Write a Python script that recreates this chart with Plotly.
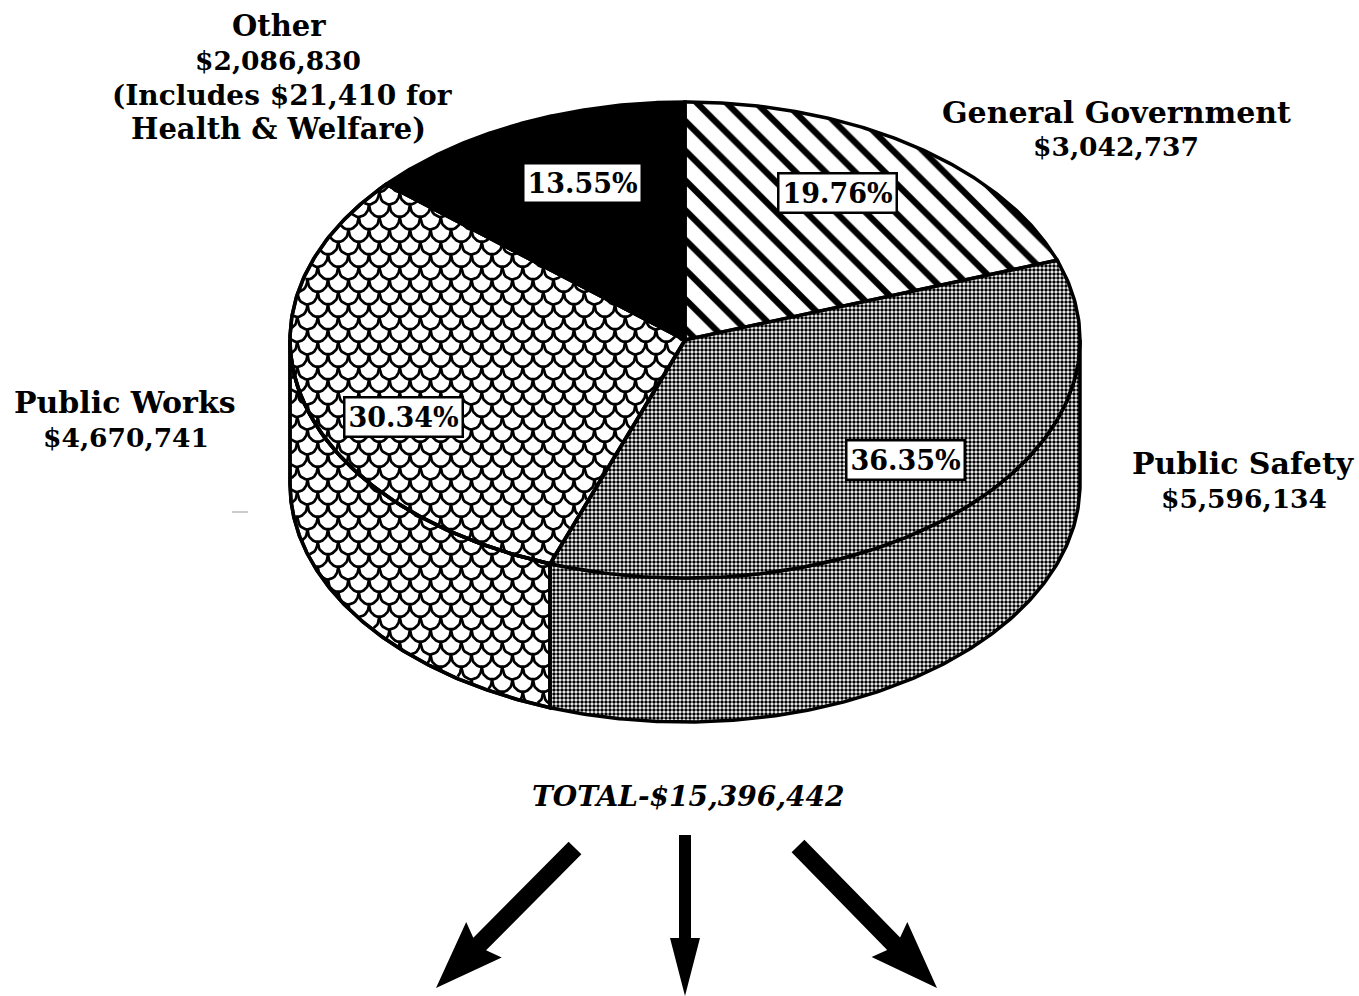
import numpy as np
import plotly.graph_objects as go

# ---- data ----
categories = ["General Government", "Public Safety", "Public Works", "Other"]
amounts = [3042737, 5596134, 4670741, 2086830]
shares = [19.76, 36.35, 30.34, 13.55]
total_label = "TOTAL-$15,396,442"

# ---- geometry / style ----
W, H = 1359, 996
CX, CY, RX, RY, DEPTH = 685, 340, 395, 238, 144
SERIF = "DejaVu Serif"
BLACK = "#000000"


def ell(theta_deg, dy=0.0):
    t = np.radians(theta_deg)
    return CX + RX * np.sin(t), CY + dy - RY * np.cos(t)


edges = np.concatenate([[0], np.cumsum(shares)]) / sum(shares) * 360.0
# the drawn original is slightly out of true: small angular correction
edges = edges - 2.1 * np.sin(np.radians(edges / 2)) ** 2


def wedge(a0, a1):
    th = np.linspace(a0, a1, 160)
    x, y = ell(th)
    return np.r_[CX, x, CX], np.r_[CY, y, CY]


def side(a0, a1):
    th = np.linspace(a0, a1, 160)
    x, y = ell(th)
    xb, yb = ell(th[::-1], DEPTH)
    return np.r_[x, xb, x[0]], np.r_[y, yb, y[0]]


def inside(px, py, polyx, polyy):
    res = np.zeros(px.shape, bool)
    j = len(polyx) - 1
    for i in range(len(polyx)):
        xi, yi, xj, yj = polyx[i], polyy[i], polyx[j], polyy[j]
        cond = (yi > py) != (yj > py)
        xint = (xj - xi) * (py - yi) / (yj - yi + 1e-12) + xi
        res ^= cond & (px < xint)
        j = i
    return res


def scale_texture(polys, period=20.5, row=12.5, depth=12.5, y0=17.0):
    """Fish-scale fill texture, clipped to the given polygons."""
    xs, ys = [], []
    t = np.r_[-1, -0.97, -0.93, -0.88, -0.8, -0.65, -0.45, -0.2, 0,
              0.2, 0.45, 0.65, 0.8, 0.88, 0.93, 0.97, 1]
    bump = 0.55 * (1 - t ** 2) + 0.45 * (1 - np.abs(t) ** 12)
    for r in range(-2, int(H / row) + 2):
        off = period / 2 if r % 2 else 0.0
        for c in range(-1, int(W / period) + 2):
            px = c * period + off + t * period / 2
            py = r * row + y0 + depth * bump
            mask = np.zeros(px.shape, bool)
            for poly in polys:
                mask |= inside(px, py, *poly)
            if not mask.any():
                continue
            for x, y, m in zip(px, py, mask):
                xs.append(round(float(x), 1) if m else None)
                ys.append(round(float(y), 1) if m else None)
            xs.append(None)
            ys.append(None)
    return xs, ys


fig = go.Figure()


def add_poly(x, y, name, lw=3.5, **kw):
    fig.add_trace(go.Scatter(x=x, y=y, mode="lines", fill="toself", name=name,
                             line=dict(color=BLACK, width=lw), hoverinfo="skip",
                             showlegend=False, **kw))


hatch = dict(shape="\\", size=21, solidity=0.3, fgcolor=BLACK, bgcolor="white",
             fgopacity=1, fillmode="replace")
dots = dict(shape=".", size=4, solidity=0.6, fgcolor=BLACK, bgcolor="white",
            fgopacity=1, fillmode="replace")

# side walls (only the part facing the viewer)
sx_pw, sy_pw = side(edges[2], 270)
sx_ps, sy_ps = side(90, edges[2])
add_poly(sx_pw, sy_pw, "Public Works side", fillcolor="white")
add_poly(sx_ps, sy_ps, "Public Safety side", fillpattern=dots, fillcolor="white")

# top faces
wx0, wy0 = wedge(edges[0], edges[1])
wx1, wy1 = wedge(edges[1], edges[2])
wx2, wy2 = wedge(edges[2], edges[3])
wx3, wy3 = wedge(edges[3], edges[4])
add_poly(wx0, wy0, categories[0], fillpattern=hatch, fillcolor="white")
add_poly(wx1, wy1, categories[1], fillpattern=dots, fillcolor="white")
add_poly(wx2, wy2, categories[2], fillcolor="white")
add_poly(wx3, wy3, categories[3], fillcolor=BLACK)

# fish-scale texture for Public Works
tx, ty = scale_texture([(wx2, wy2), (sx_pw, sy_pw)])
fig.add_trace(go.Scatter(x=tx, y=ty, mode="lines", line=dict(color=BLACK, width=2.7),
                         hoverinfo="skip", showlegend=False, connectgaps=False))

# redraw outlines over the texture
fig.add_trace(go.Scatter(x=sx_pw, y=sy_pw, mode="lines", line=dict(color=BLACK, width=3.5),
                         hoverinfo="skip", showlegend=False))
fig.add_trace(go.Scatter(x=wx2, y=wy2, mode="lines", line=dict(color=BLACK, width=3.5),
                         hoverinfo="skip", showlegend=False))


def label(x, y, text, size=30, **kw):
    fig.add_annotation(x=x, y=y, text=text, showarrow=False, xanchor="center", yanchor="middle",
                       font=dict(family=SERIF, size=size, color=BLACK), **kw)


def money(v):
    return f"${v:,}"


# category labels
label(279, 26, f"<b>{categories[3]}</b>", size=29)
label(278, 60, f"<b>{money(amounts[3])}</b>", size=26.5)
label(282, 95, "<b>(Includes $21,410 for</b>", size=28)
label(278, 129, "<b>Health &amp; Welfare)</b>", size=29)
label(1116, 112, f"<b>{categories[0]}</b>")
label(1116, 146, f"<b>{money(amounts[0])}</b>", size=26.5)
label(1243, 463, f"<b>{categories[1]}</b>")
label(1244, 498, f"<b>{money(amounts[1])}</b>", size=26.5)
label(125, 402, f"<b>{categories[2]}</b>")
label(126, 437, f"<b>{money(amounts[2])}</b>", size=26.5)
label(688, 796, f"<b><i>{total_label}</i></b>", size=28)

# percentage boxes
for (x, y), s in zip([(837, 193), (905, 460), (403, 417), (582, 183)], shares):
    label(x, y, f"<b>{s:.2f}%</b>", size=27, bgcolor="white", bordercolor=BLACK,
          borderwidth=2.5, borderpad=3)


# arrows
def arrow(x0, y0, x1, y1, shaft, head_w, head_l, barb=6):
    d = np.array([x1 - x0, y1 - y0], float)
    L = np.hypot(*d)
    u = d / L
    n = np.array([-u[1], u[0]])
    p0 = np.array([x0, y0], float)
    p1 = np.array([x1, y1], float)
    neck = p1 - u * head_l
    back = neck - u * barb
    pts = [p0 + n * shaft / 2, neck + n * shaft / 2, back + n * head_w / 2, p1,
           back - n * head_w / 2, neck - n * shaft / 2, p0 - n * shaft / 2]
    path = "M " + " L ".join(f"{a:.1f} {b:.1f}" for a, b in pts) + " Z"
    fig.add_shape(type="path", path=path, fillcolor=BLACK, line=dict(width=0), layer="above")


arrow(575, 848, 436, 988, 18, 50, 62)
arrow(685, 835, 685, 996, 12, 30, 58, barb=0)
arrow(798, 846, 937, 988, 18, 50, 62)

# small scanner speck
fig.add_shape(type="line", x0=232, x1=248, y0=512, y1=512, line=dict(color="#999999", width=1))

fig.update_layout(
    width=W, height=H, margin=dict(l=0, r=0, t=0, b=0),
    paper_bgcolor="white", plot_bgcolor="white", showlegend=False,
    xaxis=dict(range=[0, W], visible=False, fixedrange=True),
    yaxis=dict(range=[H, 0], visible=False, fixedrange=True),
)
fig.write_html("out.html", config={"displayModeBar": False},
               post_script="document.body.style.margin='0';document.body.style.overflow='hidden';")
